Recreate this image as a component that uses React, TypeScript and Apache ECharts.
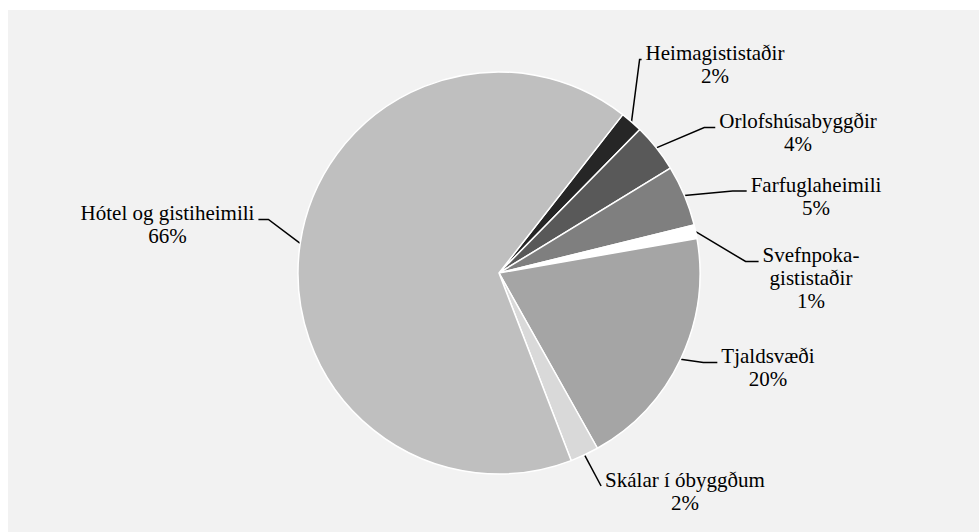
import React, { useEffect, useRef } from 'react';
import * as echarts from 'echarts';

// ---- data ----
const categories = [
  'Heimagististaðir',
  'Orlofshúsabyggðir',
  'Farfuglaheimili',
  'Svefnpoka-gististaðir',
  'Tjaldsvæði',
  'Skálar í óbyggðum',
  'Hótel og gistiheimili',
];
const shares = [1.8, 3.9, 4.9, 1.1, 19.6, 2.3, 66.4];
const sliceColors = ['#262626', '#595959', '#7f7f7f', '#ffffff', '#a5a5a5', '#d9d9d9', '#bfbfbf'];

// ---- layout (chart pixels) ----
const CENTER: [number, number] = [491, 263];
const RADIUS = 201;
const LINE_H = 23;
// label block centre and length of the horizontal hook of the leader line
const LABEL_ANCHORS = [
  { x: 707, y: 54.5, hook: 2 },
  { x: 790, y: 122.5, hook: 11 },
  { x: 808, y: 186, hook: 14 },
  { x: 803, y: 268, hook: 13 },
  { x: 760, y: 357.5, hook: 14 },
  { x: 677, y: 481, hook: 0 },
  { x: 159.5, y: 214.5, hook: 10 },
];

export default function App() {
  const ref = useRef<HTMLDivElement>(null);
  useEffect(() => {
    if (!ref.current) return;
    const chart = echarts.init(ref.current, undefined, { renderer: 'svg' });
    const data = categories.map((name, i) => ({
      name,
      value: shares[i],
      itemStyle: { color: sliceColors[i] },
    }));
    chart.setOption({
      animation: false,
      backgroundColor: '#f2f2f2',
      series: [
        {
          type: 'pie',
          center: CENTER,
          radius: RADIUS,
          startAngle: 52,
          clockwise: true,
          silent: true,
          percentPrecision: 0,
          avoidLabelOverlap: false,
          data,
          itemStyle: { borderColor: '#ffffff', borderWidth: 1.5 },
          label: {
            show: true,
            position: 'outside',
            color: '#000',
            fontFamily: '"Liberation Serif", "Times New Roman", serif',
            fontSize: 21,
            lineHeight: LINE_H,
            formatter: (p: any) => `${String(p.name).replace('-', '-\n')}\n${p.percent}%`,
          },
          labelLine: {
            show: true,
            length: 15,
            length2: 15,
            smooth: false,
            lineStyle: { color: '#000', width: 1.5 },
          },
          labelLayout: (p: any) => {
            const a = LABEL_ANCHORS[p.dataIndex];
            const w = p.labelRect.width;
            const h = p.labelRect.height;
            const top = a.y - h / 2;
            const ey = top + 18;
            const start = p.labelLinePoints ? p.labelLinePoints[0] : null;
            const right = start ? start[0] >= CENTER[0] : true;
            const ex = right ? a.x - w / 2 - 4 : a.x + w / 2 + 4;
            const elbow = [right ? ex - a.hook : ex + a.hook, ey];
            const res: any = { x: a.x, y: a.y, align: 'center', verticalAlign: 'middle' };
            if (start) res.labelLinePoints = [start, elbow, [ex, ey]];
            return res;
          },
        },
      ],
    });
    return () => chart.dispose();
  }, []);
  return (
    <div style={{ position: 'absolute', left: 8, top: 10, width: 971, height: 522, background: '#f2f2f2' }}>
      <div ref={ref} style={{ width: '100%', height: '100%' }} />
    </div>
  );
}
